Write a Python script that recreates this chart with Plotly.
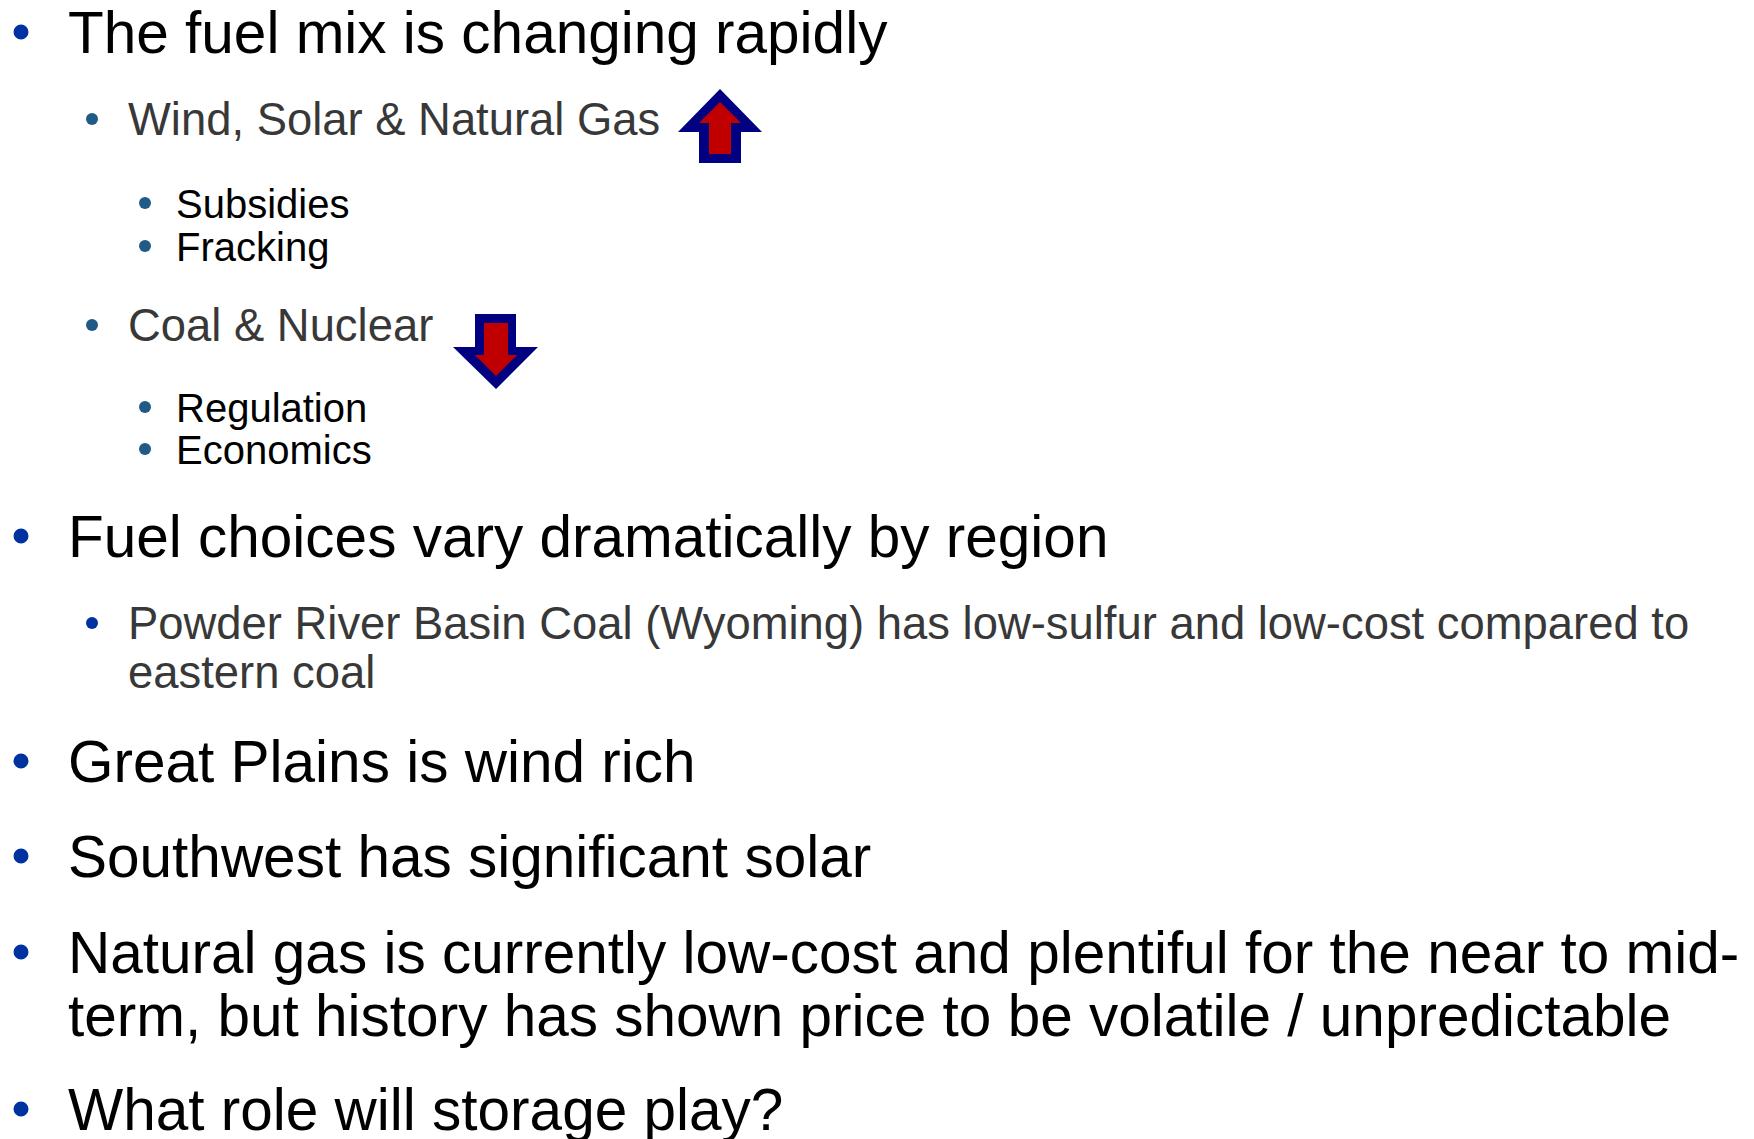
import plotly.graph_objects as go

# ---- content (text of the slide) ----
line_texts = [
    "The fuel mix is changing rapidly",
    "Wind, Solar &amp; Natural Gas",
    "Subsidies",
    "Fracking",
    "Coal &amp; Nuclear",
    "Regulation",
    "Economics",
    "Fuel choices vary dramatically by region",
    "Powder River Basin Coal (Wyoming) has low-sulfur and low-cost compared to",
    "eastern coal",
    "Great Plains is wind rich",
    "Southwest has significant solar",
    "Natural gas is currently low-cost and plentiful for the near to mid-",
    "term, but history has shown price to be volatile / unpredictable",
    "What role will storage play?",
]
line_levels = [1, 2, 3, 3, 2, 3, 3, 1, 2, 2, 1, 1, 1, 1, 1]
line_has_bullet = [True, True, True, True, True, True, True, True, True, False, True, True, True, False, True]

# ---- layout (positions in page pixels) ----
W, H = 1754, 1139
line_baselines = [53, 135, 218, 261, 341, 422, 464, 557, 639, 688, 782, 877, 973, 1036, 1130]
bullet_colors = ["#0033A0", "#1F5B86", "#1F5B86", "#1F5B86", "#1F5B86", "#1F5B86", "#1F5B86",
                 "#0033A0", "#0033A0", None, "#0033A0", "#0033A0", "#0033A0", None, "#0033A0"]

level_text_x = {1: 66, 2: 126, 3: 174}
level_bullet_x = {1: 21, 2: 92, 3: 145}
level_bullet_rise = {1: 21, 2: 16, 3: 15}
level_bullet_size = {1: 15, 2: 12, 3: 12}
level_font_size = {1: 58.5, 2: 45.4, 3: 40}
level_text_color = {1: "#000000", 2: "#383838", 3: "#000000"}

FONT = "Liberation Sans, Arial, sans-serif"

fig = go.Figure()
fig.add_trace(go.Scatter(x=[], y=[], mode="markers", showlegend=False, hoverinfo="skip"))

shapes = []
# bullets (filled circles)
for lvl, has_b, base, col in zip(line_levels, line_has_bullet, line_baselines, bullet_colors):
    if has_b:
        cx = level_bullet_x[lvl]
        cy = base - level_bullet_rise[lvl]
        r = level_bullet_size[lvl] / 2
        shapes.append(dict(type="circle", xref="x", yref="y",
                           x0=cx - r, x1=cx + r, y0=cy - r, y1=cy + r,
                           fillcolor=col, line=dict(width=0), layer="above"))

# text lines
annotations = []
for txt, lvl, base in zip(line_texts, line_levels, line_baselines):
    fs = level_font_size[lvl]
    annotations.append(dict(
        x=level_text_x[lvl], y=base - 0.3465 * fs, xref="x", yref="y",
        text=txt, showarrow=False, xanchor="left", yanchor="middle",
        font=dict(family=FONT, size=fs, color=level_text_color[lvl]),
    ))

# arrows (decorative block arrows)
navy, red = "#000080", "#C00000"
up_outer = "M720,89 L762,132 L741,132 L741,163 L699,163 L699,132 L678,132 Z"
up_inner = "M720,102 L741,123 L731,123 L731,154 L709,154 L709,123 L699,123 Z"
dn_outer = "M475,314 L516,314 L516,347 L538,347 L496,389 L453,347 L475,347 Z"
dn_inner = "M484,323 L508,323 L508,355 L517,355 L496,376 L475,355 L484,355 Z"
for p, c in [(up_outer, navy), (up_inner, red), (dn_outer, navy), (dn_inner, red)]:
    shapes.append(dict(type="path", path=p, xref="x", yref="y",
                       fillcolor=c, line=dict(width=0), layer="above"))

fig.update_layout(
    width=W, height=H,
    margin=dict(l=0, r=0, t=0, b=0),
    paper_bgcolor="white", plot_bgcolor="white",
    xaxis=dict(range=[0, W], visible=False, fixedrange=True),
    yaxis=dict(range=[H, 0], visible=False, fixedrange=True),
    annotations=annotations, shapes=shapes,
    showlegend=False,
)

fig.write_html("out.html",
               config={"displayModeBar": False},
               post_script="document.body.style.margin='0';document.body.style.overflow='hidden';")
